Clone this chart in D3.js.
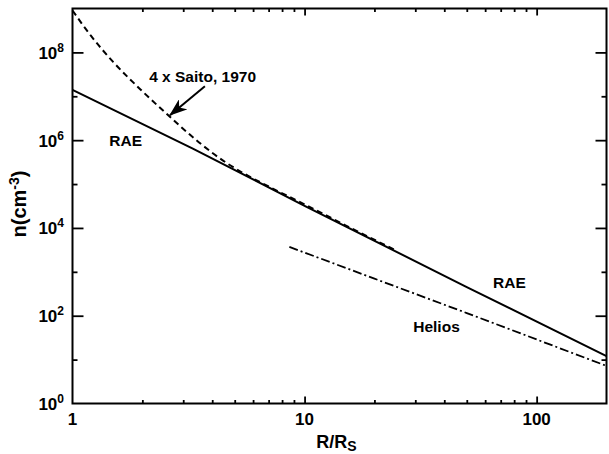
<!DOCTYPE html>
<html>
<head>
<meta charset="utf-8">
<script src="https://cdn.jsdelivr.net/npm/d3@7"></script>
<style>
    body { margin: 0; background: #fff; }
    svg { display: block; font-family: "Liberation Sans", Arial, Helvetica, sans-serif; font-weight: bold; }
</style>
</head>
<body>
<div id="chart"></div>
<script>
"use strict";

// RAE model (solid)
const raeR = [1, 3.3, 10, 50, 200];
const raeN = [1.4e7, 6.4e5, 3.2e4, 4.5e2, 12];

// 4 x Saito, 1970 (dashed)
const saitoR = [1, 1.2, 1.5, 2, 2.6, 3.5, 4.6, 5.5, 7, 10, 15, 25];
const saitoN = [9e8, 2.4e8, 6e7, 1.3e7, 3.6e6, 9e5, 3.05e5, 1.72e5, 8.8e4, 3.45e4, 1.15e4, 3.0e3];

// Helios (dash-dot)
const heliosR = [8.6, 20, 50, 200];
const heliosN = [3.7e3, 7.0e2, 1.15e2, 7.2];

// axis ticks
const xMajor = [1, 10, 100];
const xMinor = [2, 3, 4, 5, 6, 7, 8, 9, 20, 30, 40, 50, 60, 70, 80, 90];
const yMajorExp = [0, 2, 4, 6, 8];
const yMinorExp = [1, 3, 5, 7];

// text annotations, in data coordinates
const labelText = ["4 x Saito, 1970", "RAE", "RAE", "Helios"];
const labelR = [2.14, 1.44, 64.9, 29.4];
const labelN = [2.1e7, 7.4e5, 4.2e2, 43];
const arrowFrom = [3.72, 1.7e7];
const arrowTo = [2.63, 3.7e6];

const W = 609, H = 454;
const pLeft = 72.5, pRight = 606.5, pTop = 8.5, pBottom = 403.5;

const svg = d3.select("#chart").append("svg")
    .attr("width", W)
    .attr("height", H);

const x = d3.scaleLog().domain([1, 200]).range([pLeft, pRight]);
const y = d3.scaleLog().domain([1, 1e9]).range([pBottom, pTop]);

const zip = (a, b) => a.map((v, i) => [v, b[i]]);

function tickAxis(axis, transform, size, values) {
    svg.append("g")
        .attr("transform", transform)
        .call(axis.tickValues(values).tickSizeInner(size).tickSizeOuter(0).tickFormat(""))
        .call(g => g.select(".domain").remove())
        .call(g => g.selectAll(".tick line").attr("stroke", "#000").attr("stroke-width", 1.8));
}

// ticks on all four sides, pointing inward
tickAxis(d3.axisBottom(x), `translate(0,${pBottom})`, -7, xMajor.slice(1));
tickAxis(d3.axisBottom(x), `translate(0,${pBottom})`, -3.5, xMinor);
tickAxis(d3.axisTop(x), `translate(0,${pTop})`, -7, xMajor.slice(1));
tickAxis(d3.axisTop(x), `translate(0,${pTop})`, -3.5, xMinor);
const yMajor = yMajorExp.map(e => Math.pow(10, e));
const yMinor = yMinorExp.map(e => Math.pow(10, e));
tickAxis(d3.axisLeft(y), `translate(${pLeft},0)`, -11, yMajor.slice(1));
tickAxis(d3.axisLeft(y), `translate(${pLeft},0)`, -5, yMinor);
tickAxis(d3.axisRight(y), `translate(${pRight},0)`, -11, yMajor.slice(1));
tickAxis(d3.axisRight(y), `translate(${pRight},0)`, -5, yMinor);

// frame
svg.append("rect")
    .attr("x", pLeft).attr("y", pTop)
    .attr("width", pRight - pLeft).attr("height", pBottom - pTop)
    .attr("fill", "none").attr("stroke", "#000").attr("stroke-width", 2);

// x tick labels
svg.append("g").selectAll("text")
    .data(xMajor)
    .join("text")
    .attr("x", d => x(d))
    .attr("y", pBottom + 21.5)
    .attr("text-anchor", "middle")
    .attr("font-size", 17)
    .text(d => d);

// y tick labels with superscript exponent
const yLab = svg.append("g").selectAll("text")
    .data(yMajorExp)
    .join("text")
    .attr("x", pLeft - 8.5)
    .attr("y", d => y(Math.pow(10, d)) + 6.5)
    .attr("text-anchor", "end")
    .attr("font-size", 17);
yLab.append("tspan").text("10");
yLab.append("tspan").attr("font-size", 12).attr("dy", -7).text(d => d);

// axis titles
const xt = svg.append("text")
    .attr("x", (pLeft + pRight) / 2 - 3)
    .attr("y", pBottom + 44)
    .attr("text-anchor", "middle")
    .attr("font-size", 18);
xt.append("tspan").text("R/R");
xt.append("tspan").attr("font-size", 14).attr("dy", 3).text("S");

const yt = svg.append("text")
    .attr("transform", `translate(26,${(pTop + pBottom) / 2 - 2}) rotate(-90)`)
    .attr("text-anchor", "middle")
    .attr("font-size", 20);
yt.append("tspan").text("n(cm");
yt.append("tspan").attr("font-size", 14).attr("dy", -7).text("-3");
yt.append("tspan").attr("dy", 7).text(")");

// curves
const line = d3.line().x(d => x(d[0])).y(d => y(d[1]));
const plot = svg.append("g");

plot.append("path")
    .datum(zip(raeR, raeN))
    .attr("d", line)
    .attr("fill", "none").attr("stroke", "#000").attr("stroke-width", 2);

plot.append("path")
    .datum(zip(saitoR, saitoN))
    .attr("d", d3.line().x(d => x(d[0])).y(d => y(d[1])).curve(d3.curveMonotoneX))
    .attr("fill", "none").attr("stroke", "#000").attr("stroke-width", 2)
    .attr("stroke-dasharray", "6,4");

plot.append("path")
    .datum(zip(heliosR, heliosN))
    .attr("d", line)
    .attr("fill", "none").attr("stroke", "#000").attr("stroke-width", 1.8)
    .attr("stroke-dasharray", "9,3,2,3");

// annotations
svg.append("g").selectAll("text")
    .data(labelText)
    .join("text")
    .attr("x", (d, i) => x(labelR[i]))
    .attr("y", (d, i) => y(labelN[i]))
    .attr("font-size", 15.5)
    .text(d => d);

svg.append("defs").append("marker")
    .attr("id", "head")
    .attr("markerUnits", "userSpaceOnUse")
    .attr("viewBox", "0 0 18 13")
    .attr("markerWidth", 18).attr("markerHeight", 13)
    .attr("refX", 17).attr("refY", 6.5)
    .attr("orient", "auto")
    .append("path")
    .attr("d", "M0,0 L18,6.5 L0,13 L5,6.5 Z")
    .attr("fill", "#000");

svg.append("line")
    .attr("x1", x(arrowFrom[0])).attr("y1", y(arrowFrom[1]))
    .attr("x2", x(arrowTo[0])).attr("y2", y(arrowTo[1]))
    .attr("stroke", "#000").attr("stroke-width", 2)
    .attr("marker-end", "url(#head)");
</script>
</body>
</html>
